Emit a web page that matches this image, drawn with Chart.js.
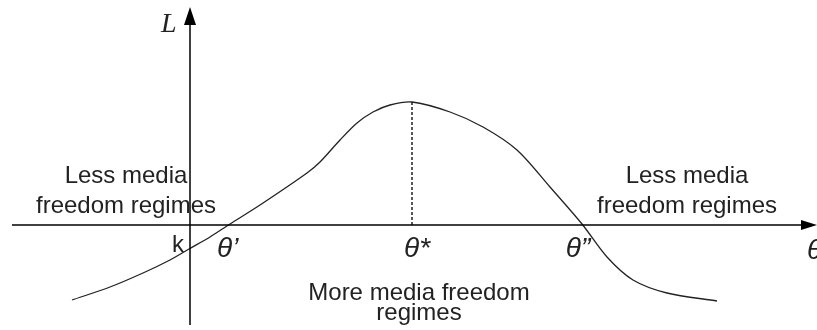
<!DOCTYPE html>
<html>
<head>
<meta charset="utf-8">
<script src="https://cdn.jsdelivr.net/npm/chart.js@4"></script>
<style>
  body { margin: 0; background: #fff; }
  #wrap { width: 817px; height: 330px; }
</style>
</head>
<body>
<div id="wrap"><canvas id="c" width="817" height="330"></canvas></div>
<script>
// curve L(theta) (axis origin at the crossing of the two axes)
const thetaVals = [-118, -80, -47, -20, -1, 20, 40, 70, 117, 130, 150, 167, 183, 200, 222, 260, 293, 327, 360, 392, 417, 443, 477, 527];
const lossVals  = [-75, -62, -48, -35, -24, -12, 1, 20, 52, 63, 85, 102, 113, 120, 123, 113, 98, 75, 38, 1, -32, -55, -68, -76];

// peak marker (theta*)
const peakTheta = 222;
const peakL = 123;

const curve = thetaVals.map((t, i) => ({ x: t, y: lossVals[i] }));
const peakLine = [{ x: peakTheta, y: peakL }, { x: peakTheta, y: 0 }];

const FONT = '"Liberation Sans", Arial, sans-serif';

// axes, arrows and text labels drawn on top, placed through the scales
const overlay = {
    id: "overlay",
    afterDatasetsDraw(chart) {
        const { ctx, scales: { x, y } } = chart;
        const px = (v) => x.getPixelForValue(v);
        const py = (v) => y.getPixelForValue(v);
        const x0 = px(0), y0 = py(0);

        ctx.save();
        ctx.strokeStyle = "#000";
        ctx.fillStyle = "#000";
        ctx.lineWidth = 1.5;

        // x axis
        ctx.beginPath();
        ctx.moveTo(px(-178), y0);
        ctx.lineTo(px(614), y0);
        ctx.stroke();
        ctx.beginPath();
        ctx.moveTo(px(627), y0);
        ctx.lineTo(px(611), y0 - 5);
        ctx.lineTo(px(611), y0 + 5);
        ctx.closePath();
        ctx.fill();

        // y axis
        ctx.beginPath();
        ctx.moveTo(x0, py(-100));
        ctx.lineTo(x0, py(205));
        ctx.stroke();
        ctx.beginPath();
        ctx.moveTo(x0, py(218));
        ctx.lineTo(x0 - 6, py(200));
        ctx.lineTo(x0 + 6, py(200));
        ctx.closePath();
        ctx.fill();

        ctx.fillStyle = "#222";
        ctx.textBaseline = "alphabetic";

        // axis names
        ctx.font = "italic 28px 'Liberation Serif', 'Times New Roman', serif";
        ctx.textAlign = "left";
        ctx.fillText("L", px(-29), py(193));

        ctx.font = "italic 28px " + FONT;
        ctx.fillText("\u03B8", px(617), py(-34));

        // thresholds
        ctx.fillText("\u03B8\u2019", px(27), py(-32));
        ctx.textAlign = "center";
        ctx.fillText("\u03B8*", px(peakTheta + 5), py(-32));
        ctx.fillText("\u03B8\u201D", px(388), py(-32));

        // k
        ctx.font = "24px " + FONT;
        ctx.textAlign = "right";
        ctx.fillText("k", px(-6), py(-27));

        // regime notes
        ctx.textAlign = "center";
        ctx.fillText("Less media", px(-64), py(42));
        ctx.fillText("freedom regimes", px(-64), py(12));
        ctx.fillText("Less media", px(497), py(42));
        ctx.fillText("freedom regimes", px(497), py(12));
        ctx.fillText("More media freedom", px(229), py(-75));
        ctx.fillText("regimes", px(229), py(-95));

        ctx.restore();
    }
};

new Chart(document.getElementById("c"), {
    type: "scatter",
    data: {
        datasets: [
            {
                data: curve,
                showLine: true,
                borderColor: "#222",
                borderWidth: 1.3,
                pointRadius: 0,
                tension: 0.3
            },
            {
                data: peakLine,
                showLine: true,
                borderColor: "#000",
                borderWidth: 1.3,
                borderDash: [3, 2],
                pointRadius: 0
            }
        ]
    },
    options: {
        responsive: false,
        animation: false,
        layout: { padding: 0 },
        plugins: { legend: { display: false }, tooltip: { enabled: false } },
        scales: {
            x: { type: "linear", min: -190, max: 627, display: false },
            y: { type: "linear", min: -105, max: 225, display: false }
        }
    },
    plugins: [overlay]
});
</script>
</body>
</html>
